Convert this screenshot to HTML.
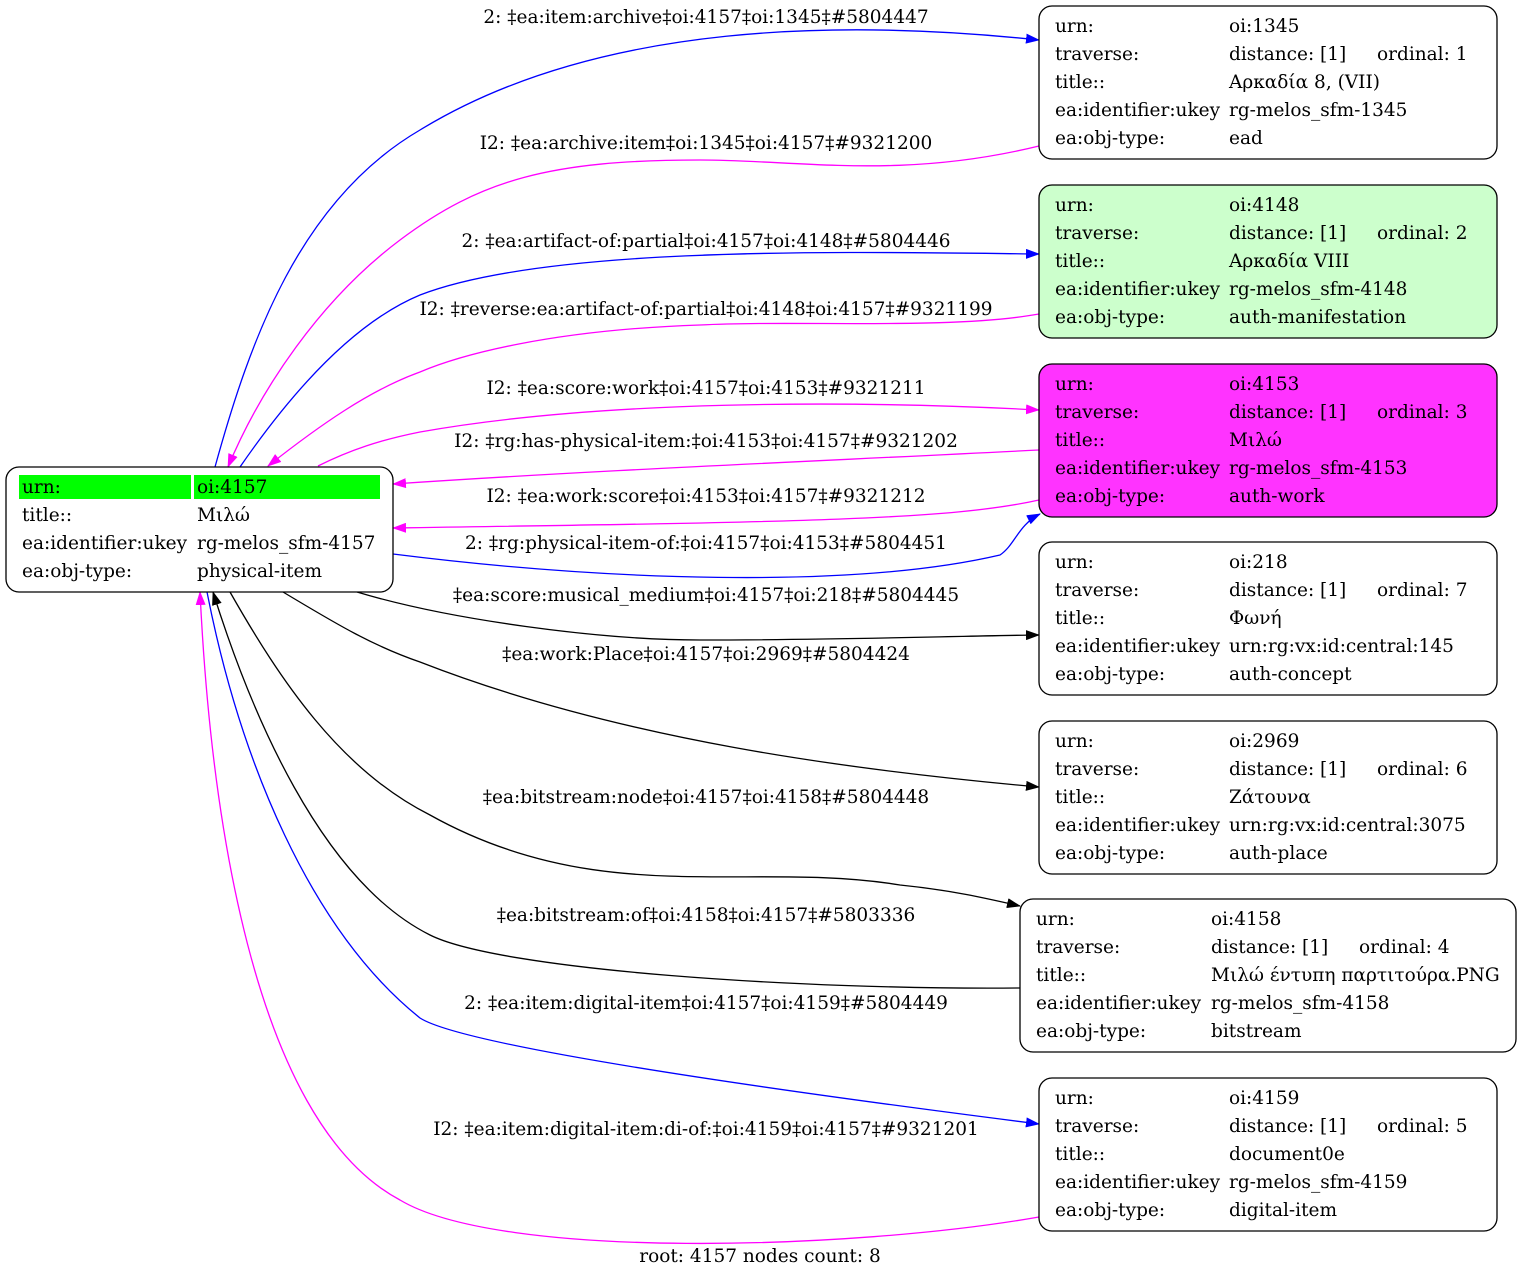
<!DOCTYPE html>
<html><head><meta charset="utf-8"><style>
html,body{margin:0;padding:0;background:#fff;}
svg{display:block;}
text{font-family:"DejaVu Serif","Liberation Serif",serif;font-size:18.5px;fill:#000;}
.l{text-anchor:middle;}
</style></head><body>
<svg width="1521" height="1278" viewBox="0 0 1521 1278" xmlns="http://www.w3.org/2000/svg">
<defs>
<marker id="ab" markerUnits="userSpaceOnUse" markerWidth="14" markerHeight="10" refX="13" refY="5" orient="auto"><path d="M0,0 L14,5 L0,10 z" fill="#0000ff"/></marker>
<marker id="am" markerUnits="userSpaceOnUse" markerWidth="14" markerHeight="10" refX="13" refY="5" orient="auto"><path d="M0,0 L14,5 L0,10 z" fill="#ff00ff"/></marker>
<marker id="ak" markerUnits="userSpaceOnUse" markerWidth="14" markerHeight="10" refX="13" refY="5" orient="auto"><path d="M0,0 L14,5 L0,10 z" fill="#000"/></marker>
</defs>
<g fill="none" stroke-width="1.3">
<path d="M215,467 C250,340 300,200 420,130 C600,20 850,20 1039,40" stroke="#0000ff" marker-end="url(#ab)"/>
<path d="M1039,146 C900,180 800,160 700,160 C550,160 480,180 400,240 C320,300 260,390 228,467" stroke="#ff00ff" marker-end="url(#am)"/>
<path d="M240,467 C300,380 360,320 420,295 C550,245 850,252 1039,254" stroke="#0000ff" marker-end="url(#ab)"/>
<path d="M1039,314 C950,330 800,320 700,325 C550,330 460,355 420,372 C370,390 320,425 268,466" stroke="#ff00ff" marker-end="url(#am)"/>
<path d="M318,466 C350,450 380,440 420,432 C600,400 850,400 1039,410" stroke="#ff00ff" marker-end="url(#am)"/>
<path d="M1039,450 C800,462 600,470 393,484" stroke="#ff00ff" marker-end="url(#am)"/>
<path d="M1039,500 C950,520 800,522 393,528" stroke="#ff00ff" marker-end="url(#am)"/>
<path d="M393,554 C600,580 850,590 1000,555 C1015,545 1018,525 1040,514" stroke="#0000ff" marker-end="url(#ab)"/>
<path d="M357,592 C450,620 600,640 700,640 C850,640 950,636 1039,635" stroke="#000" marker-end="url(#ak)"/>
<path d="M283,592 C330,620 370,645 420,662 C620,740 850,770 1039,787" stroke="#000" marker-end="url(#ak)"/>
<path d="M230,592 C280,680 340,770 430,815 C600,910 750,860 900,885 C950,890 985,898 1020,906" stroke="#000" marker-end="url(#ak)"/>
<path d="M1020,988 C800,990 500,970 430,935 C320,880 250,710 213,592" stroke="#000" marker-end="url(#ak)"/>
<path d="M207,592 C240,760 310,930 420,1018 C470,1050 850,1100 1039,1124" stroke="#0000ff" marker-end="url(#ab)"/>
<path d="M1039,1217 C850,1250 500,1260 400,1200 C250,1120 210,800 200,592" stroke="#ff00ff" marker-end="url(#am)"/>
</g>
<text class="l" x="706" y="23">2: ‡ea:item:archive‡oi:4157‡oi:1345‡#5804447</text>
<text class="l" x="706" y="149">I2: ‡ea:archive:item‡oi:1345‡oi:4157‡#9321200</text>
<text class="l" x="706" y="247">2: ‡ea:artifact-of:partial‡oi:4157‡oi:4148‡#5804446</text>
<text class="l" x="706" y="315">I2: ‡reverse:ea:artifact-of:partial‡oi:4148‡oi:4157‡#9321199</text>
<text class="l" x="706" y="394">I2: ‡ea:score:work‡oi:4157‡oi:4153‡#9321211</text>
<text class="l" x="706" y="447">I2: ‡rg:has-physical-item:‡oi:4153‡oi:4157‡#9321202</text>
<text class="l" x="706" y="502">I2: ‡ea:work:score‡oi:4153‡oi:4157‡#9321212</text>
<text class="l" x="706" y="549">2: ‡rg:physical-item-of:‡oi:4157‡oi:4153‡#5804451</text>
<text class="l" x="706" y="601">‡ea:score:musical_medium‡oi:4157‡oi:218‡#5804445</text>
<text class="l" x="706" y="660">‡ea:work:Place‡oi:4157‡oi:2969‡#5804424</text>
<text class="l" x="706" y="803">‡ea:bitstream:node‡oi:4157‡oi:4158‡#5804448</text>
<text class="l" x="706" y="921">‡ea:bitstream:of‡oi:4158‡oi:4157‡#5803336</text>
<text class="l" x="706" y="1009">2: ‡ea:item:digital-item‡oi:4157‡oi:4159‡#5804449</text>
<text class="l" x="706" y="1135">I2: ‡ea:item:digital-item:di-of:‡oi:4159‡oi:4157‡#9321201</text>
<text class="l" x="760" y="1262">root: 4157 nodes count: 8</text>

<rect x="6" y="467" width="387" height="125" rx="13" fill="#fff" stroke="#000" stroke-width="1.3"/>
<rect x="19" y="475" width="172" height="24" fill="#00ff00"/>
<rect x="194" y="475" width="186" height="24" fill="#00ff00"/>
<text x="22" y="493">urn:</text><text x="197" y="493">oi:4157</text>
<text x="22" y="521">title::</text><text x="197" y="521">Μιλώ</text>
<text x="22" y="549">ea:identifier:ukey</text><text x="197" y="549">rg-melos_sfm-4157</text>
<text x="22" y="577">ea:obj-type:</text><text x="197" y="577">physical-item</text>

<g>
<rect x="1039" y="6" width="458" height="153" rx="13" fill="#fff" stroke="#000" stroke-width="1.3"/>
<text x="1055" y="32">urn:</text><text x="1229" y="32">oi:1345</text>
<text x="1055" y="60">traverse:</text><text x="1229" y="60">distance: [1]</text><text x="1377" y="60">ordinal: 1</text>
<text x="1055" y="88">title::</text><text x="1229" y="88">Αρκαδία 8, (VII)</text>
<text x="1055" y="116">ea:identifier:ukey</text><text x="1229" y="116">rg-melos_sfm-1345</text>
<text x="1055" y="144">ea:obj-type:</text><text x="1229" y="144">ead</text>
</g>
<g>
<rect x="1039" y="185" width="458" height="153" rx="13" fill="#ccffcc" stroke="#000" stroke-width="1.3"/>
<text x="1055" y="211">urn:</text><text x="1229" y="211">oi:4148</text>
<text x="1055" y="239">traverse:</text><text x="1229" y="239">distance: [1]</text><text x="1377" y="239">ordinal: 2</text>
<text x="1055" y="267">title::</text><text x="1229" y="267">Αρκαδία VIII</text>
<text x="1055" y="295">ea:identifier:ukey</text><text x="1229" y="295">rg-melos_sfm-4148</text>
<text x="1055" y="323">ea:obj-type:</text><text x="1229" y="323">auth-manifestation</text>
</g>
<g>
<rect x="1039" y="364" width="458" height="153" rx="13" fill="#ff33ff" stroke="#000" stroke-width="1.3"/>
<text x="1055" y="390">urn:</text><text x="1229" y="390">oi:4153</text>
<text x="1055" y="418">traverse:</text><text x="1229" y="418">distance: [1]</text><text x="1377" y="418">ordinal: 3</text>
<text x="1055" y="446">title::</text><text x="1229" y="446">Μιλώ</text>
<text x="1055" y="474">ea:identifier:ukey</text><text x="1229" y="474">rg-melos_sfm-4153</text>
<text x="1055" y="502">ea:obj-type:</text><text x="1229" y="502">auth-work</text>
</g>
<g>
<rect x="1039" y="542" width="458" height="153" rx="13" fill="#fff" stroke="#000" stroke-width="1.3"/>
<text x="1055" y="568">urn:</text><text x="1229" y="568">oi:218</text>
<text x="1055" y="596">traverse:</text><text x="1229" y="596">distance: [1]</text><text x="1377" y="596">ordinal: 7</text>
<text x="1055" y="624">title::</text><text x="1229" y="624">Φωνή</text>
<text x="1055" y="652">ea:identifier:ukey</text><text x="1229" y="652">urn:rg:vx:id:central:145</text>
<text x="1055" y="680">ea:obj-type:</text><text x="1229" y="680">auth-concept</text>
</g>
<g>
<rect x="1039" y="721" width="458" height="153" rx="13" fill="#fff" stroke="#000" stroke-width="1.3"/>
<text x="1055" y="747">urn:</text><text x="1229" y="747">oi:2969</text>
<text x="1055" y="775">traverse:</text><text x="1229" y="775">distance: [1]</text><text x="1377" y="775">ordinal: 6</text>
<text x="1055" y="803">title::</text><text x="1229" y="803">Ζάτουνα</text>
<text x="1055" y="831">ea:identifier:ukey</text><text x="1229" y="831">urn:rg:vx:id:central:3075</text>
<text x="1055" y="859">ea:obj-type:</text><text x="1229" y="859">auth-place</text>
</g>
<g>
<rect x="1020" y="899" width="496" height="153" rx="13" fill="#fff" stroke="#000" stroke-width="1.3"/>
<text x="1036" y="925">urn:</text><text x="1211" y="925">oi:4158</text>
<text x="1036" y="953">traverse:</text><text x="1211" y="953">distance: [1]</text><text x="1359" y="953">ordinal: 4</text>
<text x="1036" y="981">title::</text><text x="1211" y="981">Μιλώ έντυπη παρτιτούρα.PNG</text>
<text x="1036" y="1009">ea:identifier:ukey</text><text x="1211" y="1009">rg-melos_sfm-4158</text>
<text x="1036" y="1037">ea:obj-type:</text><text x="1211" y="1037">bitstream</text>
</g>
<g>
<rect x="1039" y="1078" width="458" height="153" rx="13" fill="#fff" stroke="#000" stroke-width="1.3"/>
<text x="1055" y="1104">urn:</text><text x="1229" y="1104">oi:4159</text>
<text x="1055" y="1132">traverse:</text><text x="1229" y="1132">distance: [1]</text><text x="1377" y="1132">ordinal: 5</text>
<text x="1055" y="1160">title::</text><text x="1229" y="1160">document0e</text>
<text x="1055" y="1188">ea:identifier:ukey</text><text x="1229" y="1188">rg-melos_sfm-4159</text>
<text x="1055" y="1216">ea:obj-type:</text><text x="1229" y="1216">digital-item</text>
</g>
</svg>
</body></html>
